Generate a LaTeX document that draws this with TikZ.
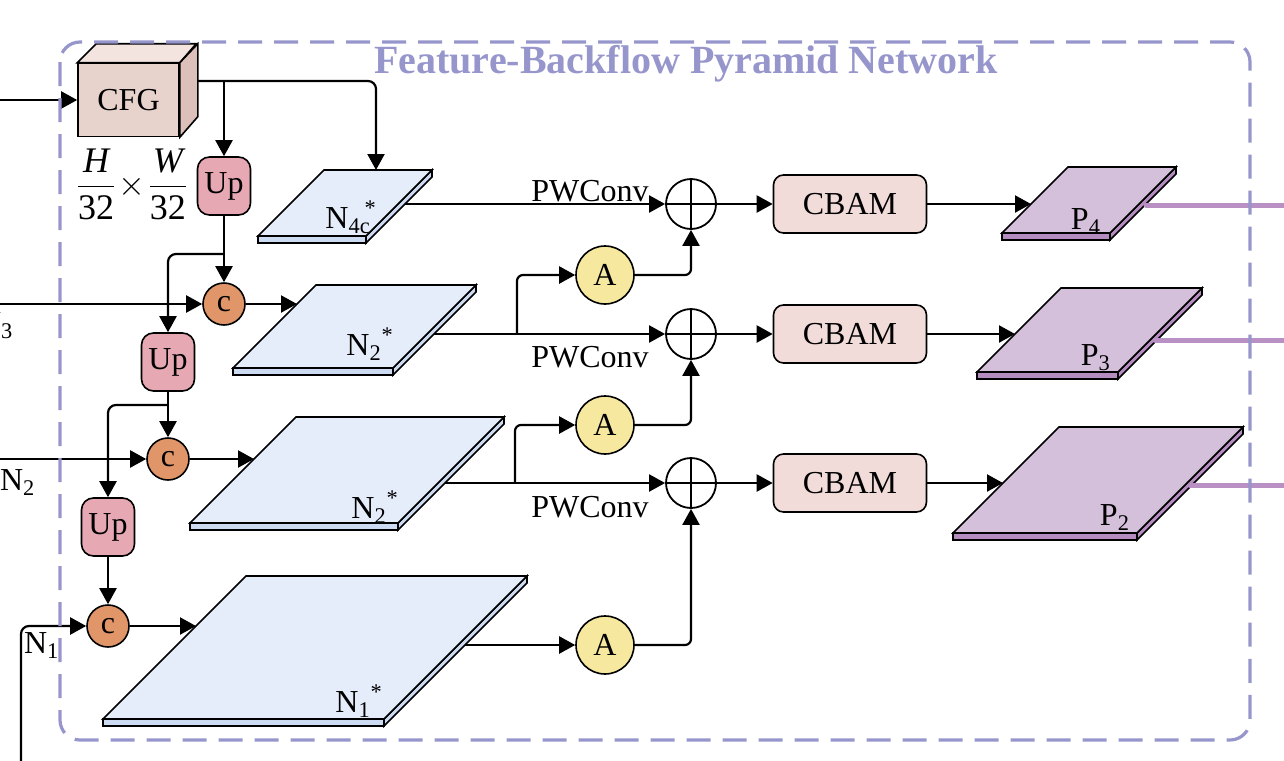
\documentclass[tikz,border=0pt]{standalone}
\usepackage{fontspec}
\setmainfont{Liberation Serif}
\usepackage{tikz}
\usetikzlibrary{arrows.meta,calc}

\definecolor{fbborder}{RGB}{150,150,204}
\definecolor{cfgfront}{RGB}{232,210,204}
\definecolor{cfgtop}{RGB}{243,228,224}
\definecolor{cfgside}{RGB}{222,192,186}
\definecolor{upfill}{RGB}{230,169,180}
\definecolor{catfill}{RGB}{225,150,106}
\definecolor{attfill}{RGB}{246,232,158}
\definecolor{cbamfill}{RGB}{242,220,218}
\definecolor{ntop}{RGB}{229,236,250}
\definecolor{nside}{RGB}{204,218,242}
\definecolor{ptop}{RGB}{213,192,220}
\definecolor{pside}{RGB}{180,140,192}
\definecolor{pline}{RGB}{184,144,196}

% feature map plate: x, y (front bottom-left), width, depth, top colour, side colour
\newcommand{\fmap}[6]{%
  \draw[line width=0.8pt,fill=#6] (#1,#2) rectangle ++(#3,7);
  \draw[line width=0.8pt,fill=#6] (#1+#3,#2) -- ++(#4,-#4) -- ++(0,7) -- ++(-#4,#4) -- cycle;
  \draw[line width=0.8pt,fill=#5] (#1,#2) -- ++(#3,0) -- ++(#4,-#4) -- ++(-#3,0) -- cycle;
}

\begin{document}
\begin{tikzpicture}[x=0.5pt,y=-0.5pt,
  every node/.style={font=\fontsize{16}{19}\selectfont},
  arr/.style={line width=1.1pt,-{Triangle[length=8pt,width=8.5pt]}},
  upbox/.style={draw,line width=0.8pt,fill=upfill,rounded corners=6pt,minimum width=26.5pt,minimum height=29pt,inner sep=0pt},
  catnode/.style={draw,circle,line width=0.8pt,fill=catfill,minimum size=21pt,inner sep=0pt},
  attnode/.style={draw,circle,line width=0.8pt,fill=attfill,minimum size=29pt,inner sep=0pt},
  addnode/.style={draw,circle,line width=0.9pt,minimum size=25pt,inner sep=0pt,
    path picture={\draw[line width=0.9pt] (path picture bounding box.north) -- (path picture bounding box.south)
      (path picture bounding box.west) -- (path picture bounding box.east);}},
  cbambox/.style={draw,line width=0.8pt,fill=cbamfill,rounded corners=5pt,minimum width=76.5pt,minimum height=29pt},
  outline/.style={line width=2.5pt,pline,line cap=round}]
\useasboundingbox (0,0) rectangle (1284,760);

\node[fbborder,anchor=base,font=\bfseries\fontsize{20}{24}\selectfont] (title) at (686,73) {Feature-Backflow Pyramid Network};

% CFG block
\node[draw,line width=0.8pt,fill=cfgfront,minimum width=50.5pt,minimum height=36.5pt] (cfg) at (128.5,100) {CFG};
\draw[line width=0.8pt,fill=cfgtop] (cfg.north west) -- ++(19,-19) -- ++(100,0) -- (cfg.north east) -- cycle;
\draw[line width=0.8pt,fill=cfgside] (cfg.north east) -- ++(18,-19) -- ++(0,73) -- (cfg.south east) -- cycle;
\node[font=\fontsize{18}{21}\selectfont,inner sep=0pt] (size) at (132,184) {$\displaystyle\frac{\mbox{\itshape H}}{\mbox{32}}\mkern-3mu\times\mkern-3mu\frac{\mbox{\itshape W}}{\mbox{32}}$};

\node[upbox] (up1) at (224,186) {Up};
\node[upbox] (up2) at (168,362) {Up};
\node[upbox] (up3) at (108,527) {Up};
\node[catnode] (c1) at (224,304) {c};
\node[catnode] (c2) at (168,459) {c};
\node[catnode] (c3) at (108,626) {c};

% feature maps
\fmap{258}{236}{108}{66}{ntop}{nside}
\fmap{233}{368}{160}{83}{ntop}{nside}
\fmap{190}{523}{208}{106}{ntop}{nside}
\fmap{103}{719}{281}{143}{ntop}{nside}
\fmap{1002}{233}{108}{66}{ptop}{pside}
\fmap{977}{372}{141}{84}{ptop}{pside}
\fmap{953}{533}{184}{106}{ptop}{pside}

\node[anchor=base east] (n4lab) at (384,228) {N\textsubscript{4c}\hspace{-3pt}\textsuperscript{*}};
\node[anchor=base east] (n2ulab) at (401,355) {N\textsubscript{2}\textsuperscript{*}};
\node[anchor=base east] (n2llab) at (406,518) {N\textsubscript{2}\textsuperscript{*}};
\node[anchor=base east] (n1lab) at (390,712) {N\textsubscript{1}\textsuperscript{*}};
\node[anchor=base east] (p4lab) at (1108,229) {P\textsubscript{4}};
\node[anchor=base east] (p3lab) at (1118,365) {P\textsubscript{3}};
\node[anchor=base east] (p2lab) at (1137,525) {P\textsubscript{2}};

\coordinate (n4in) at (376,170);
\coordinate (n2uin) at (297,304);
\coordinate (n2lin) at (254,459);
\coordinate (n1in) at (196,626);
\coordinate (n4out) at (405,204);
\coordinate (n2uout) at (434,334);
\coordinate (n2lout) at (445,483);
\coordinate (n1out) at (465,645);
\coordinate (p4in) at (1031,204);
\coordinate (p3in) at (1015,334);
\coordinate (p2in) at (1003,483);
\coordinate (p4out) at (1146,205);
\coordinate (p3out) at (1155,340);
\coordinate (p2out) at (1190,485);

\node[addnode] (add1) at (691,204) {};
\node[addnode] (add2) at (691,334) {};
\node[addnode] (add3) at (691,483) {};
\node[attnode] (att1) at (605,275) {A};
\node[attnode] (att2) at (605,425) {A};
\node[attnode] (att3) at (605,645) {A};
\node[cbambox] (cbam1) at (850,204) {CBAM};
\node[cbambox] (cbam2) at (850,334) {CBAM};
\node[cbambox] (cbam3) at (850,483) {CBAM};
\node[anchor=base] (pw1) at (590,201) {PWConv};
\node[anchor=base] (pw2) at (590,367) {PWConv};
\node[anchor=base] (pw3) at (590,517) {PWConv};

% top-down path
\coordinate (incfg) at (0,100);
\draw[arr] (incfg) -- (cfg);
\coordinate (cfgout) at (197,81);
\coordinate (br1) at (224,81);
\draw[arr,rounded corners=4pt] (cfgout) -| (n4in);
\draw[arr] (br1) -- (up1);
\draw[arr] (up1) -- (c1);
\coordinate (br2) at (224,254);
\draw[arr,rounded corners=4pt] (br2) -| (up2);
\coordinate (n3) at (0,304);
\draw[arr] (n3) -- (c1);
\node[anchor=base west] (n3lab) at (-29,333) {N\textsubscript{3}};
\draw[arr] (c1) -- (n2uin);
\draw[arr] (up2) -- (c2);
\coordinate (br3) at (168,405);
\draw[arr,rounded corners=4pt] (br3) -| (up3);
\coordinate (n2) at (0,459);
\draw[arr] (n2) -- (c2);
\node[anchor=base west] (n2lab) at (-7,490) {N\textsubscript{2}};
\draw[arr] (c2) -- (n2lin);
\draw[arr] (up3) -- (c3);
\coordinate (n1) at (21,770);
\draw[arr,rounded corners=4pt] (n1) |- (c3);
\node[anchor=base west] (n1lab) at (17,653) {N\textsubscript{1}};
\draw[arr] (c3) -- (n1in);

% fusion
\draw[arr] (n4out) -- (add1);
\draw[arr] (n2uout) -- (add2);
\draw[arr] (n2lout) -- (add3);
\coordinate (br4) at (517,334);
\coordinate (br5) at (515,483);
\draw[arr,rounded corners=3pt] (br4) |- (att1);
\draw[arr,rounded corners=3pt] (br5) |- (att2);
\draw[arr] (n1out) -- (att3);
\draw[arr,rounded corners=3pt] (att1) -| (add1);
\draw[arr,rounded corners=3pt] (att2) -| (add2);
\draw[arr,rounded corners=3pt] (att3) -| (add3);
\draw[arr] (add1) -- (cbam1);
\draw[arr] (add2) -- (cbam2);
\draw[arr] (add3) -- (cbam3);
\draw[arr] (cbam1) -- (p4in);
\draw[arr] (cbam2) -- (p3in);
\draw[arr] (cbam3) -- (p2in);

% outputs
\coordinate (o4) at (1300,205);
\coordinate (o3) at (1300,340);
\coordinate (o2) at (1300,485);
\draw[outline] (p4out) -- (o4);
\draw[outline] (p3out) -- (o3);
\draw[outline] (p2out) -- (o2);

\draw[fbborder,line width=1.6pt,dash pattern=on 12pt off 6pt,rounded corners=10pt] (60,42) rectangle (1250,740);
\end{tikzpicture}
\end{document}
